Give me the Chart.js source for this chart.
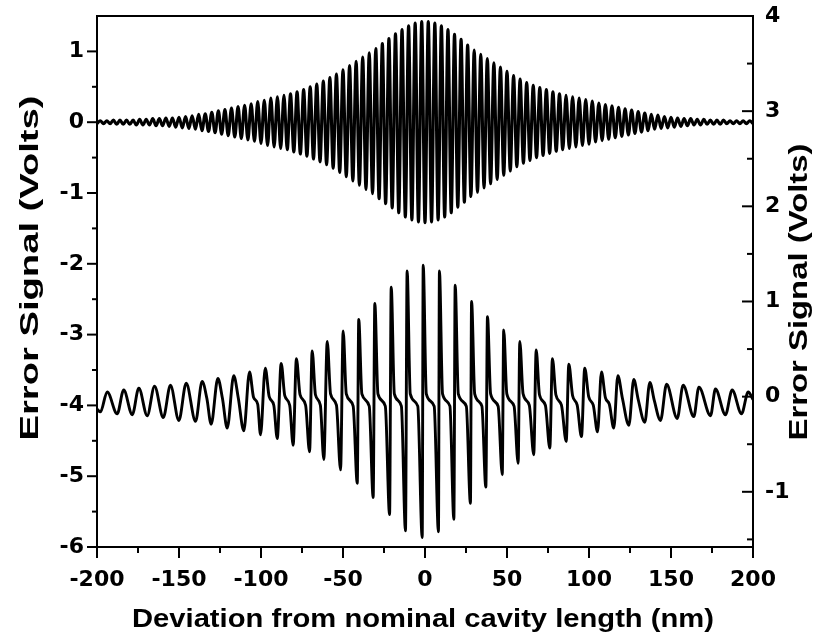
<!DOCTYPE html>
<html><head><meta charset="utf-8">
<script src="https://cdn.jsdelivr.net/npm/chart.js@4.4.1/dist/chart.umd.min.js"></script>
<style>html,body{margin:0;padding:0;background:#fff}#wrap{width:821px;height:643px}</style>
</head><body><div id="wrap"><canvas id="c" width="821" height="643"></canvas></div>
<script>
// ---- data ----
// upper trace (left axis): extrema of the fast fringe pattern
const topX = [-200,-198,-196,-194,-192,-190,-188,-186,-184,-182,-180,-178,-176,-174,-172,-170,-168,-166,-164,-162,-160,-158,-156,-154,-152,-150,-148,-146,-144,-142,-140,-138,-136,-134,-132,-130,-128,-126,-124,-122,-120,-118,-116,-114,-112,-110,-108,-106,-104,-102,-100,-98,-96,-94,-92,-90,-88,-86,-84,-82,-80,-78,-76,-74,-72,-70,-68,-66,-64,-62,-60,-58,-56,-54,-52,-50,-48,-46,-44,-42,-40,-38,-36,-34,-32,-30,-28,-26,-24,-22,-20,-18,-16,-14,-12,-10,-8,-6,-4,-2,0,2,4,6,8,10,12,14,16,18,20,22,24,26,28,30,32,34,36,38,40,42,44,46,48,50,52,54,56,58,60,62,64,66,68,70,72,74,76,78,80,82,84,86,88,90,92,94,96,98,100,102,104,106,108,110,112,114,116,118,120,122,124,126,128,130,132,134,136,138,140,142,144,146,148,150,152,154,156,158,160,162,164,166,168,170,172,174,176,178,180,182,184,186,188,190,192,194,196,198,200];
const topY = [-0.02,0.02,-0.02,0.02,-0.02,0.03,-0.03,0.03,-0.03,0.03,
-0.03,0.03,-0.04,0.04,-0.04,0.04,-0.04,0.05,-0.05,0.05,
-0.05,0.06,-0.06,0.06,-0.07,0.07,-0.08,0.08,-0.09,0.09,
-0.10,0.11,-0.12,0.12,-0.13,0.14,-0.15,0.16,-0.17,0.18,
-0.19,0.20,-0.21,0.22,-0.23,0.24,-0.25,0.26,-0.27,0.29,
-0.30,0.31,-0.33,0.34,-0.35,0.36,-0.37,0.38,-0.39,0.40,
-0.42,0.43,-0.45,0.46,-0.48,0.50,-0.52,0.54,-0.56,0.58,
-0.60,0.63,-0.65,0.68,-0.71,0.74,-0.77,0.80,-0.83,0.86,
-0.89,0.92,-0.95,0.98,-1.01,1.04,-1.08,1.11,-1.15,1.18,
-1.21,1.25,-1.28,1.31,-1.34,1.36,-1.38,1.40,-1.41,1.42,
-1.42,
1.42,-1.41,1.40,-1.38,1.36,-1.34,1.31,-1.28,1.24,-1.20,
1.17,-1.13,1.09,-1.05,1.02,-0.99,0.96,-0.93,0.90,-0.87,
0.84,-0.81,0.78,-0.75,0.72,-0.69,0.66,-0.63,0.61,-0.58,
0.56,-0.54,0.52,-0.50,0.49,-0.47,0.46,-0.44,0.43,-0.41,
0.40,-0.39,0.38,-0.37,0.36,-0.35,0.34,-0.33,0.32,-0.31,
0.30,-0.28,0.27,-0.26,0.25,-0.24,0.23,-0.22,0.21,-0.20,
0.19,-0.18,0.17,-0.16,0.15,-0.14,0.13,-0.12,0.11,-0.10,
0.10,-0.09,0.08,-0.08,0.07,-0.07,0.06,-0.06,0.05,-0.05,
0.05,-0.04,0.04,-0.04,0.04,-0.03,0.03,-0.03,0.03,-0.03,
0.03,-0.02,0.02,-0.02,0.02,-0.02,0.02,-0.02,0.02,-0.02];

// lower trace (right axis): trough, peak and shoulder points of each resonance
const bottomX = [-200,
-197.9,-193.8, -187.7,-183.7, -178.5,-174.5, -169.4,-164.9, -159.6,-155.2, -150.1,-145.6,
-139.9,-135.9,-133.0, -130.4,-126.3,-123.5, -120.6,-116.6,-113.8,
-110.5,-107.0,-104.5,-102.0, -100.3,-97.4,-95.0,-92.2, -90.1,-87.7,-85.5,-82.5,
-80.4,-78.4,-76.2,-72.8, -70.4,-68.8,-66.8,-63.8, -61.7,-59.6,-57.6,-54.0,
-51.5,-49.9,-48.0,-43.8, -41.3,-40.4,-38.5,-34.0, -31.6,-30.6,-28.7,-24.2,
-21.6,-20.6,-18.7,-14.4, -11.9,-10.9,-9.0,-4.4, -1.7,-1.1,0.8,5.6,
8.2,8.8,10.7,15.2, 17.6,18.4,20.3,25.2, 27.7,28.4,30.3,34.7,
37.1,38.1,40.0,44.6, 47.1,48.0,49.9,54.3, 56.8,57.8,59.8,63.6,
66.3,67.8,69.8,73.4, 76.1,77.7,79.8,83.2, 86.1,87.7,90.0,92.8,
95.4,97.4,99.8,102.6, 105.2,107.6,110.0,112.4,
115.1,117.6,120.4, 124.3,127.3,130.0, 134.0,137.1,139.8,
143.6,147.3, 153.8,157.4, 163.9,167.0, 174.1,177.1, 183.2,187.3, 193.0,197.1,
200];
const bottomY = [-0.13,
-0.16,0.05, -0.18,0.07, -0.19,0.09, -0.20,0.11, -0.22,0.12, -0.25,0.14,
-0.26,0.16,-0.02, -0.29,0.19,-0.02, -0.33,0.22,-0.02,
-0.36,0.26,-0.01,-0.08, -0.40,0.30,0.00,-0.09, -0.44,0.35,0.01,-0.09,
-0.51,0.40,0.02,-0.09, -0.58,0.48,0.02,-0.09, -0.66,0.58,0.03,-0.09,
-0.77,0.69,0.03,-0.10, -0.91,0.81,0.03,-0.10, -1.06,0.98,0.03,-0.10,
-1.24,1.15,0.03,-0.10, -1.41,1.32,0.03,-0.10, -1.48,1.38,0.03,-0.10,
-1.42,1.32,0.03,-0.10, -1.29,1.17,0.03,-0.10, -1.12,1.00,0.03,-0.10,
-0.95,0.84,0.03,-0.10, -0.82,0.70,0.03,-0.10, -0.70,0.58,0.03,-0.09,
-0.61,0.49,0.02,-0.09, -0.54,0.40,0.02,-0.09, -0.47,0.34,0.01,-0.09,
-0.42,0.30,0.00,-0.09, -0.37,0.26,-0.01,-0.08,
-0.33,0.22,-0.02, -0.30,0.18,-0.03, -0.27,0.15,-0.04,
-0.25,0.13, -0.23,0.12, -0.21,0.10, -0.20,0.08, -0.19,0.07, -0.18,0.05,
-0.03];

// axis ticks
const xTicks = [-200,-150,-100,-50,0,50,100,150,200];
const xMinor = [-175,-125,-75,-25,25,75,125,175];
const leftTicks = [-6,-5,-4,-3,-2,-1,0,1];
const leftMinor = [-5.5,-4.5,-3.5,-2.5,-1.5,-0.5,0.5];
const rightTicks = [-1,0,1,2,3,4];
const rightMinor = [-1.5,-0.5,0.5,1.5,2.5,3.5];
const xTitle = 'Deviation from nominal cavity length (nm)';
const yTitle = 'Error Signal (Volts)';

const TITLE_FAMILY = "'Liberation Sans', Arial, Helvetica, sans-serif";
const TICK_FAMILY = "'DejaVu Sans', 'Liberation Sans', Arial, sans-serif";

const framePlugin = {
  id: 'frame',
  afterDraw(chart) {
    const {ctx, chartArea: a, scales} = chart;
    ctx.save();
    ctx.strokeStyle = '#000';
    ctx.lineWidth = 2;
    ctx.lineCap = 'square';
    ctx.strokeRect(a.left, a.top, a.right - a.left, a.bottom - a.top);
    ctx.lineCap = 'butt';
    const seg = (x1, y1, x2, y2) => { ctx.beginPath(); ctx.moveTo(x1, y1); ctx.lineTo(x2, y2); ctx.stroke(); };
    xTicks.forEach(v => { const p = scales.x.getPixelForValue(v); seg(p, a.bottom, p, a.bottom + 11); });
    xMinor.forEach(v => { const p = scales.x.getPixelForValue(v); seg(p, a.bottom, p, a.bottom + 6); });
    leftTicks.forEach(v => { const p = scales.y.getPixelForValue(v); seg(a.left, p, a.left - 10, p); });
    leftMinor.forEach(v => { const p = scales.y.getPixelForValue(v); seg(a.left, p, a.left - 5, p); });
    rightTicks.forEach(v => { const p = scales.y2.getPixelForValue(v); seg(a.right, p, a.right - 11, p); });
    rightMinor.forEach(v => { const p = scales.y2.getPixelForValue(v); seg(a.right, p, a.right - 6, p); });

    // axis titles
    ctx.fillStyle = '#000';
    ctx.textAlign = 'center';
    ctx.textBaseline = 'middle';
    const drawStretched = (text, cx, cy, rot, size, target) => {
      ctx.save();
      ctx.font = 'bold ' + size + 'px ' + TITLE_FAMILY;
      const w = ctx.measureText(text).width;
      ctx.translate(cx, cy);
      ctx.rotate(rot);
      ctx.scale(target / w, 1);
      ctx.fillText(text, 0, 0);
      ctx.restore();
    };
    drawStretched(xTitle, 423, 620, 0, 26, 582);
    drawStretched(yTitle, 31, 268, -Math.PI / 2, 25, 345);
    drawStretched(yTitle, 800, 292, -Math.PI / 2, 25, 297);
    ctx.restore();
  }
};

const tickFont = {family: TICK_FAMILY, size: 22, weight: 'bold'};
const noPad = s => { s.paddingTop = 0; s.paddingBottom = 0; s.paddingLeft = 0; s.paddingRight = 0; };

new Chart(document.getElementById('c'), {
  type: 'line',
  data: {
    datasets: [
      {data: topX.map((x, i) => ({x: x, y: topY[i]})), yAxisID: 'y', borderColor: '#000', borderWidth: 3.1,
       pointRadius: 0, cubicInterpolationMode: 'monotone', fill: false},
      {data: bottomX.map((x, i) => ({x: x, y: bottomY[i]})), yAxisID: 'y2', borderColor: '#000', borderWidth: 2.9,
       pointRadius: 0, cubicInterpolationMode: 'monotone', fill: false}
    ]
  },
  options: {
    responsive: false, animation: false, devicePixelRatio: 1,
    layout: {padding: {top: 16, left: 0, right: 0, bottom: 0}},
    plugins: {legend: {display: false}, tooltip: {enabled: false}},
    scales: {
      x: {
        type: 'linear', min: -200, max: 200,
        afterBuildTicks: s => { s.ticks = xTicks.map(v => ({value: v})); },
        afterFit: s => { s.height = 96; noPad(s); },
        grid: {display: false, drawTicks: false},
        border: {display: false},
        ticks: {autoSkip: false, maxRotation: 0, color: '#000', font: tickFont, padding: 20}
      },
      y: {
        type: 'linear', position: 'left', min: -6, max: 1.5,
        afterBuildTicks: s => { s.ticks = leftTicks.map(v => ({value: v})); },
        afterFit: s => { s.width = 97; noPad(s); },
        grid: {display: false, drawTicks: false},
        border: {display: false},
        ticks: {autoSkip: false, color: '#000', font: tickFont, padding: 13}
      },
      y2: {
        type: 'linear', position: 'right', min: -1.58, max: 4,
        afterBuildTicks: s => { s.ticks = rightTicks.map(v => ({value: v})); },
        afterFit: s => { s.width = 68; noPad(s); },
        grid: {display: false, drawTicks: false},
        border: {display: false},
        ticks: {autoSkip: false, color: '#000', font: tickFont, padding: 12}
      }
    }
  },
  plugins: [framePlugin]
});
</script>
</body></html>
